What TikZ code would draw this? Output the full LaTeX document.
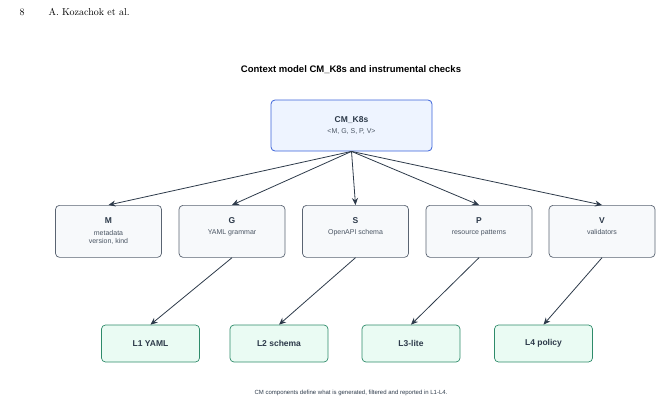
\documentclass[tikz,border=0pt]{standalone}
\usepackage{fontspec}
\setsansfont{Liberation Sans}
\usetikzlibrary{arrows.meta}
\definecolor{ink}{HTML}{2D3A4A}
\definecolor{topfill}{HTML}{EEF4FF}
\definecolor{topdraw}{HTML}{3B63D9}
\definecolor{midfill}{HTML}{F7F9FB}
\definecolor{middraw}{HTML}{5A6472}
\definecolor{botfill}{HTML}{EAFBF3}
\definecolor{botdraw}{HTML}{2E8B6A}
\definecolor{subtxt}{HTML}{4A5563}
\tikzset{
 topbox/.style={draw=topdraw,fill=topfill,rounded corners=4pt,line width=0.8pt,minimum width=161pt,minimum height=51pt,align=center,font=\sffamily\fontsize{7}{8.5}\selectfont,text=subtxt},
 midbox/.style={draw=middraw,fill=midfill,rounded corners=4pt,line width=0.7pt,minimum width=106pt,minimum height=52pt,align=center,font=\sffamily\fontsize{7}{8.5}\selectfont,text=subtxt},
 botbox/.style={draw=botdraw,fill=botfill,rounded corners=4pt,line width=0.7pt,minimum width=98pt,minimum height=37pt,font=\sffamily\bfseries\fontsize{8.5}{10}\selectfont,text=ink},
 conn/.style={draw=ink,line width=0.8pt,-{Stealth[length=7pt,width=6pt]}}
}
\newcommand{\hdtitle}[1]{\textcolor{ink}{\fontsize{8.5}{10}\selectfont\bfseries #1}\\[3pt]}
\begin{document}
\begin{tikzpicture}[x=1pt,y=-1pt]
\useasboundingbox (0,0) rectangle (663,404);
\node[anchor=west,font=\fontsize{10}{12}\selectfont] (pg) at (16,12) {8};
\node[anchor=west,font=\fontsize{10}{12}\selectfont] (au) at (45,12) {A. Kozachok et al.};
\node[font=\sffamily\bfseries\fontsize{9.5}{11}\selectfont,text=black] (title) at (351,70) {Context model CM\_K8s and instrumental checks};
\node[topbox] (cm) at (351.5,125.5) {\hdtitle{CM\_K8s}<M, G, S, P, V>};
\node[midbox,anchor=north] (M) at (108.5,205) {\hdtitle{M}metadata\\version, kind};
\node[midbox,anchor=north] (G) at (232,205) {\hdtitle{G}YAML grammar\\\strut};
\node[midbox,anchor=north] (S) at (355.5,205) {\hdtitle{S}OpenAPI schema\\\strut};
\node[midbox,anchor=north] (P) at (479,205) {\hdtitle{P}resource patterns\\\strut};
\node[midbox,anchor=north] (V) at (602,205) {\hdtitle{V}validators\\\strut};
\node[botbox] (L1) at (150.5,343.5) {L1 YAML};
\node[botbox] (L2) at (279,343.5) {L2 schema};
\node[botbox] (L3) at (411,343.5) {L3-lite};
\node[botbox] (L4) at (543.5,343.5) {L4 policy};
\foreach \n in {M,G,S,P,V} \draw[conn] (cm.south) -- (\n.north);
\draw[conn] (G.south) -- (L1.north);
\draw[conn] (S.south) -- (L2.north);
\draw[conn] (P.south) -- (L3.north);
\draw[conn] (V.south) -- (L4.north);
\node[font=\sffamily\fontsize{6}{7}\selectfont,text=ink] (cap) at (351,393) {CM components define what is generated, filtered and reported in L1-L4.};
\end{tikzpicture}
\end{document}
